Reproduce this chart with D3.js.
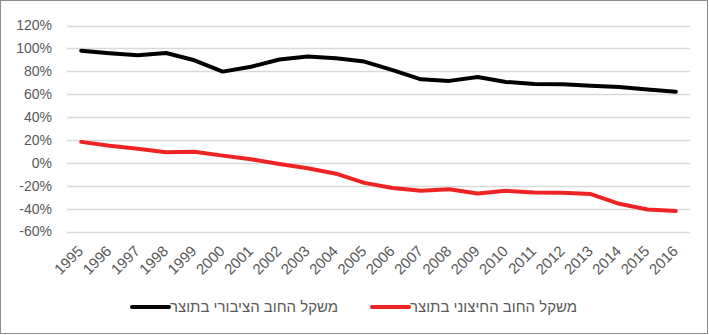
<!DOCTYPE html>
<html><head><meta charset="utf-8">
<script src="https://cdn.jsdelivr.net/npm/d3@7"></script>
<style>html,body{margin:0;padding:0;background:#fff;}svg{display:block;}</style>
</head><body>
<script>
const years = ["1995","1996","1997","1998","1999","2000","2001","2002","2003","2004","2005","2006","2007","2008","2009","2010","2011","2012","2013","2014","2015","2016"];
const publicDebt = [98, 95.8, 94, 96, 89.6, 79.7, 84, 90.3, 93, 91.3, 88.5, 81, 73, 71.6, 75, 70.7, 68.9, 68.7, 67.4, 66.2, 64, 62.2];
const externalDebt = [18.3, 15, 12.4, 9.3, 9.6, 6.3, 3.1, -1, -4.8, -9.5, -17.5, -22, -24.4, -23, -26.8, -24.4, -25.9, -26.1, -27.3, -35.8, -40.8, -42.1];
const yTicks = [-60, -40, -20, 0, 20, 40, 60, 80, 100, 120];
const seriesNames = ["משקל החוב הציבורי בתוצר", "משקל החוב החיצוני בתוצר"];
const seriesColors = ["#000000", "#ee2424"];

const W = 709, H = 335;
const svg = d3.select("body").append("svg").attr("width", W).attr("height", H);
svg.append("rect").attr("x", 0.5).attr("y", 0.5).attr("width", 707).attr("height", 333)
  .attr("fill", "#fff").attr("stroke", "#8c8c8c").attr("stroke-width", 1);

const x = d3.scalePoint().domain(years).range([67, 690]).padding(0.5);
const y = d3.scaleLinear().domain([-60, 120]).range([231.5, 25.5]);

// gridlines
svg.append("g").selectAll("line").data(yTicks).join("line")
  .attr("x1", 67).attr("x2", 690)
  .attr("y1", d => Math.round(y(d)) + 0.5).attr("y2", d => Math.round(y(d)) + 0.5)
  .attr("stroke", "#d9d9d9").attr("stroke-width", 1.3);

// y labels
svg.append("g").selectAll("text").data(yTicks).join("text")
  .attr("x", 52).attr("y", d => y(d)).attr("dy", "0.35em")
  .attr("text-anchor", "end")
  .attr("font-family", "Liberation Sans, Arial, sans-serif").attr("font-size", 14)
  .attr("fill", "#595959")
  .text(d => d + "%");

// x labels
svg.append("g").selectAll("text").data(years).join("text")
  .attr("transform", d => `translate(${x(d) + 3},252) rotate(-45)`)
  .attr("text-anchor", "end")
  .attr("font-family", "Liberation Sans, Arial, sans-serif").attr("font-size", 15)
  .attr("fill", "#595959")
  .text(d => d);

const line = d3.line().x((d, i) => x(years[i])).y(d => y(d));
[publicDebt, externalDebt].forEach((s, k) => {
  svg.append("path").datum(s).attr("d", line)
    .attr("fill", "none").attr("stroke", seriesColors[k]).attr("stroke-width", 4)
    .attr("stroke-linejoin", "round").attr("stroke-linecap", "round");
});

// legend
const legendX = [132, 372];
seriesNames.forEach((n, k) => {
  const g = svg.append("g").attr("transform", `translate(${legendX[k]},307)`);
  g.append("line").attr("x1", 0).attr("x2", 37).attr("y1", 0).attr("y2", 0)
    .attr("stroke", seriesColors[k]).attr("stroke-width", 4).attr("stroke-linecap", "round");
  g.append("text").attr("x", 38).attr("y", 0).attr("dy", "0.35em")
    .attr("direction", "ltr").attr("text-anchor", "start")
    .attr("font-family", "Liberation Sans, Arial, sans-serif").attr("font-size", 15)
    .attr("fill", "#595959")
    .text(n);
});
</script>
</body></html>
